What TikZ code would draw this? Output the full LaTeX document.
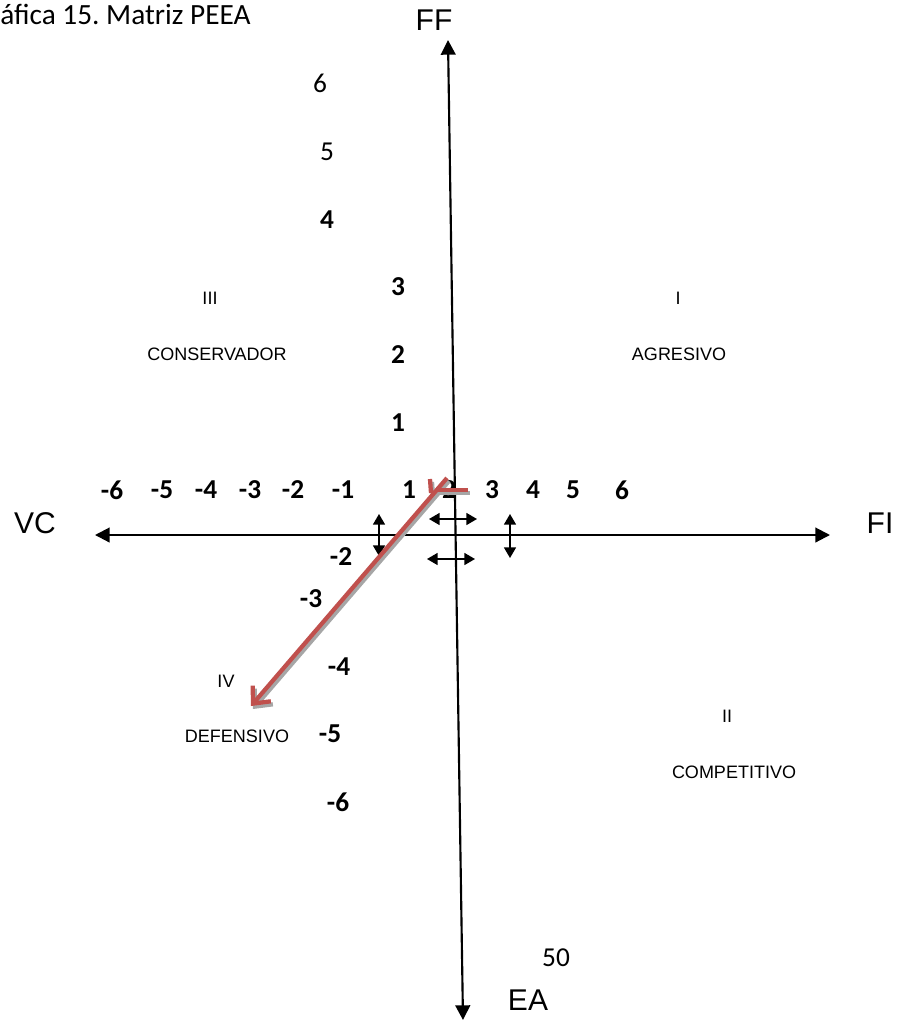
\documentclass[tikz,border=0pt]{standalone}
\usepackage{fontspec}
\setmainfont{Liberation Sans}
\newfontfamily\calfont{Carlito}
\usetikzlibrary{arrows.meta}
\definecolor{redc}{RGB}{192,80,77}
\frenchspacing
\begin{document}
\begin{tikzpicture}[x=0.75pt,y=-0.75pt,
  axis/.style={line width=1.6pt, {Triangle[length=11pt,width=11pt]}-{Triangle[length=11pt,width=11pt]}},
  dbl/.style={line width=1.2pt, {Triangle[length=8pt,width=9pt]}-{Triangle[length=8pt,width=9pt]}},
  redline/.style={line width=3.2pt, color=redc},
  shadowline/.style={line width=3.2pt, color=black!35},
  num/.style={font=\calfont\bfseries\fontsize{20.5}{20.5}\selectfont, inner sep=0pt},
  numr/.style={font=\calfont\fontsize{20.5}{20.5}\selectfont, inner sep=0pt},
  quad/.style={font=\fontsize{13.5}{14}\selectfont, inner sep=0pt},
  axl/.style={font=\fontsize{22.5}{23}\selectfont, inner sep=0pt}]
\useasboundingbox (0,0) rectangle (912,1022);
% title
\node[font=\calfont\fontsize{22}{22}\selectfont, anchor=base west, inner sep=0pt] (title) at (0,24) {áfica 15. Matriz PEEA};
% axes
\coordinate (L) at (95,535);
\coordinate (R) at (830,535);
\coordinate (T) at (448,40);
\coordinate (B) at (463,1020);
\draw[axis] (L) -- (R);
\draw[axis] (T) -- (B);
% small double arrows
\coordinate (a1) at (379,514); \coordinate (a2) at (379,556);
\coordinate (b1) at (510,514); \coordinate (b2) at (510,558);
\coordinate (c1) at (429,519); \coordinate (c2) at (477,519);
\coordinate (d1) at (427,559); \coordinate (d2) at (475,559);
\draw[dbl] (a1) -- (a2);
\draw[dbl] (b1) -- (b2);
\draw[dbl] (c1) -- (c2);
\draw[dbl] (d1) -- (d2);
% axis labels
\node[axl] (vc) at (35,523) {VC};
\node[axl] (fi) at (880,523) {FI};
\node[axl] (ff) at (434,20) {FF};
\node[axl] (ea) at (528,1000) {EA};
\node[numr] (fifty) at (556,958) {50};
% horizontal numbers
\node[num] (hm6) at (112,490) {-6};
\node[num] (hm5) at (162,490) {-5};
\node[num] (hm4) at (206,490) {-4};
\node[num] (hm3) at (250,490) {-3};
\node[num] (hm2) at (293,490) {-2};
\node[num] (hm1) at (343,490) {-1};
\node[num] (hp1) at (409,490) {1};
\node[num] (hp2) at (449,490) {2};
\node[num] (hp3) at (492,490) {3};
\node[num] (hp4) at (533,490) {4};
\node[num] (hp5) at (573,490) {5};
\node[num] (hp6) at (622,490) {6};
% vertical numbers
\node[numr] (vp6) at (320,83) {6};
\node[numr] (vp5) at (327,152) {5};
\node[num] (vp4) at (327,220) {4};
\node[num] (vp3) at (398,287) {3};
\node[num] (vp2) at (398,355) {2};
\node[num] (vp1) at (398,423) {1};
\node[num] (vm2) at (341,557) {-2};
\node[num] (vm3) at (311,599) {-3};
\node[num] (vm4) at (339,667) {-4};
\node[num] (vm5) at (330,734) {-5};
\node[num] (vm6) at (338,802) {-6};
% quadrant labels
\node[quad] (q3) at (210,298) {III};
\node[quad] (q3t) at (217,354) {CONSERVADOR};
\node[quad] (q1) at (678,298) {I};
\node[quad] (q1t) at (679,354) {AGRESIVO};
\node[quad] (q4) at (226,681) {IV};
\node[quad] (q4t) at (237,736) {DEFENSIVO};
\node[quad] (q2) at (727,716) {II};
\node[quad] (q2t) at (734,772) {COMPETITIVO};
% red vector
\coordinate (r0) at (447,478);
\coordinate (r1) at (251,706);
\coordinate (h0) at (438,490);
\coordinate (h1) at (468,490);
\coordinate (t0) at (430,479);
\coordinate (t1) at (431,493);
\draw[shadowline] ([shift={(2,3)}]h0) -- ([shift={(2,3)}]h1);
\draw[shadowline] ([shift={(2,3)}]t0) -- ([shift={(2,3)}]t1);
\draw[shadowline, -{Straight Barb[length=10pt,width=18pt]}] ([shift={(2,3)}]r0) -- ([shift={(2,3)}]r1);
\draw[redline] (h0) -- (h1);
\draw[redline] (t0) -- (t1);
\draw[redline, -{Straight Barb[length=10pt,width=18pt]}] (r0) -- (r1);
\end{tikzpicture}
\end{document}
